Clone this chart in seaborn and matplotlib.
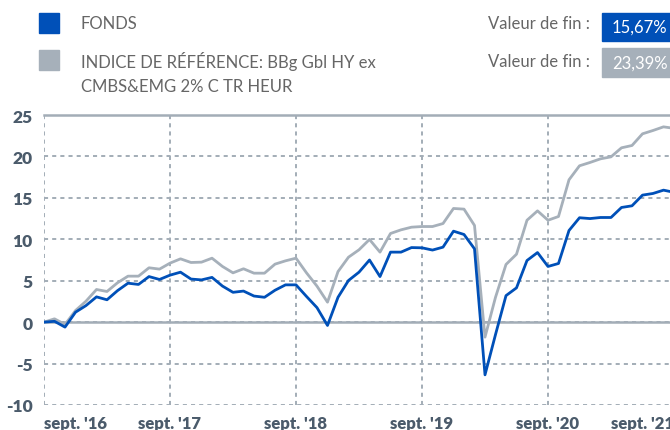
import matplotlib
matplotlib.use("Agg")
import matplotlib.pyplot as plt
import matplotlib.patches as mpatches
import seaborn as sns
import pandas as pd

# ---------------- data ----------------
fund = [0.0, 0.1, -0.6, 1.2, 2.0, 3.05, 2.7, 3.8, 4.7, 4.55, 5.5, 5.15,
        5.67, 6.03, 5.2, 5.1, 5.4, 4.35, 3.6, 3.75, 3.15, 3.0, 3.85, 4.5,
        4.5, 3.1, 1.75, -0.4, 3.0, 5.03, 6.03, 7.5, 5.5, 8.45, 8.45, 9.0,
        8.97, 8.7, 9.05, 10.98, 10.58, 8.85, -6.36, -1.5, 3.2, 4.14, 7.44, 8.4,
        6.72, 7.08, 11.06, 12.6, 12.5, 12.63, 12.63, 13.84, 14.04, 15.33, 15.53, 15.93,
        15.67]
bench = [0.0, 0.4, -0.28, 1.4, 2.53, 3.94, 3.7, 4.75, 5.55, 5.55, 6.56, 6.4,
         7.12, 7.64, 7.2, 7.24, 7.72, 6.72, 5.95, 6.44, 5.91, 5.91, 7.0, 7.4,
         7.72, 5.95, 4.34, 2.41, 6.1, 7.84, 8.73, 9.98, 8.45, 10.7, 11.14, 11.46,
         11.54, 11.54, 11.9, 13.72, 13.64, 11.67, -1.81, 3.0, 6.96, 8.2, 12.3, 13.43,
         12.3, 12.75, 17.18, 18.87, 19.27, 19.71, 19.95, 21.04, 21.32, 22.73, 23.13, 23.57,
         23.39]
series_names = ["FONDS", "INDICE DE RÉFÉRENCE: BBg Gbl HY ex\nCMBS&EMG 2% C TR HEUR"]
end_values = ["15,67%", "23,39%"]
x_tick_months = [0, 12, 24, 36, 48, 60]
x_tick_labels = ["sept. '16", "sept. '17", "sept. '18", "sept. '19", "sept. '20", "sept. '21"]
y_ticks = [-10, -5, 0, 5, 10, 15, 20, 25]

BLUE = "#0050b8"
GREY = "#a6b0ba"
GRID = "#a3adb7"
TICK = "#4b5b6b"
TEXT = "#666666"

df = pd.DataFrame({
    "month": list(range(len(fund))) * 2,
    "value": fund + bench,
    "series": ["fund"] * len(fund) + ["bench"] * len(bench),
})

sns.set_theme(style="white")
plt.rcParams["font.family"] = ["Lato", "DejaVu Sans"]

W, H = 670, 431
fig = plt.figure(figsize=(W / 100, H / 100), dpi=100)

def fx(x):
    return x / W

def fy(y):
    return 1 - y / H

left, right, top, bottom = 44, 674, 116, 406
ax = fig.add_axes([fx(left), fy(bottom), (right - left) / W, (bottom - top) / H])

sns.lineplot(data=df, x="month", y="value", hue="series",
             hue_order=["bench", "fund"],
             palette={"fund": BLUE, "bench": GREY},
             linewidth=2.0, legend=False, ax=ax, zorder=3)

ax.set_xlim(0, 60)
ax.set_ylim(-10, 25)
ax.set_xlabel("")
ax.set_ylabel("")

ax.set_yticks(y_ticks)
ax.set_yticklabels([str(v) for v in y_ticks])
ax.set_xticks(x_tick_months)
ax.set_xticklabels(x_tick_labels)

ax.grid(True, which="major", axis="both", color=GRID, linestyle=(0, (2.1, 2.1)),
        linewidth=1.4)
ax.axhline(0, color=GRID, linewidth=1.8, zorder=2)

for side in ["left", "right", "bottom"]:
    ax.spines[side].set_visible(False)
ax.spines["top"].set_color(GRID)
ax.spines["top"].set_linewidth(1.8)

ax.tick_params(axis="x", direction="out", length=7, width=1.4, color=GRID,
               pad=0, labelsize=12, labelcolor=TICK)
ax.tick_params(axis="y", length=0, pad=8, labelsize=12.5, labelcolor=TICK)
for lab in ax.get_xticklabels() + ax.get_yticklabels():
    lab.set_fontweight("heavy")
xl = ax.get_xticklabels()
xl[0].set_horizontalalignment("left")
xl[-1].set_horizontalalignment("right")

# ---------------- header legend ----------------
FS = 12
fig.patches.append(mpatches.Rectangle((fx(39), fy(34)), 20 / W, 20 / H,
                                      transform=fig.transFigure, color=BLUE))
fig.patches.append(mpatches.Rectangle((fx(39), fy(71)), 20 / W, 20 / H,
                                      transform=fig.transFigure, color=GREY))
fig.text(fx(81), fy(24), series_names[0], fontsize=FS, color=TEXT,
         va="center", ha="left")
fig.text(fx(81), fy(73.5), series_names[1], fontsize=FS, color=TEXT,
         va="center", ha="left", linespacing=1.55)

fig.text(fx(590), fy(24), "Valeur de fin :", fontsize=FS, color=TEXT,
         va="center", ha="right")
fig.text(fx(590), fy(62), "Valeur de fin :", fontsize=FS, color=TEXT,
         va="center", ha="right")

fig.patches.append(mpatches.Rectangle((fx(602), fy(42)), 80 / W, 28 / H,
                                      transform=fig.transFigure, color=BLUE))
fig.patches.append(mpatches.Rectangle((fx(602), fy(78)), 80 / W, 29 / H,
                                      transform=fig.transFigure, color=GREY))
fig.text(fx(612), fy(28), end_values[0], fontsize=FS, color="white",
         va="center", ha="left")
fig.text(fx(612), fy(64), end_values[1], fontsize=FS, color="white",
         va="center", ha="left")

fig.savefig("out.png", dpi=100)
